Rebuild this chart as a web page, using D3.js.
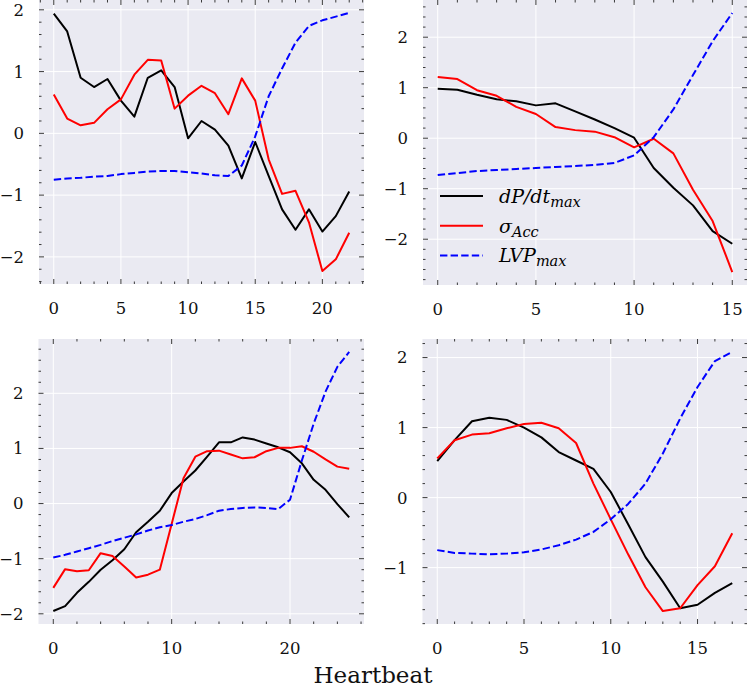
<!DOCTYPE html>
<html>
<head>
<meta charset="utf-8">
<script src="https://cdn.jsdelivr.net/npm/d3@7"></script>
<style>
  body { margin: 0; background: #ffffff; }
  svg text { font-family: "DejaVu Serif", serif; }
</style>
</head>
<body>
<div id="chart"></div>
<script>

// top left panel, heartbeats 0..22
var dpdtA = [1.94, 1.65, 0.90, 0.75, 0.88, 0.53, 0.27, 0.90, 1.02, 0.75, -0.08, 0.20, 0.06, -0.20, -0.73, -0.14, -0.69, -1.23, -1.56, -1.23, -1.59, -1.34, -0.94];
var saccA = [0.63, 0.24, 0.13, 0.17, 0.39, 0.55, 0.95, 1.19, 1.18, 0.40, 0.61, 0.77, 0.65, 0.31, 0.89, 0.53, -0.42, -0.98, -0.93, -1.44, -2.23, -2.04, -1.61];
var lvpA  = [-0.75, -0.73, -0.72, -0.70, -0.69, -0.66, -0.64, -0.62, -0.61, -0.61, -0.63, -0.65, -0.68, -0.69, -0.52, -0.05, 0.60, 1.05, 1.47, 1.74, 1.83, 1.89, 1.95];

// top right panel, heartbeats 0..15
var dpdtB = [0.98, 0.96, 0.86, 0.77, 0.73, 0.65, 0.69, 0.53, 0.37, 0.20, 0.01, -0.59, -0.98, -1.33, -1.84, -2.09];
var saccB = [1.21, 1.17, 0.95, 0.84, 0.62, 0.48, 0.22, 0.16, 0.13, 0.02, -0.18, -0.01, -0.30, -1.02, -1.64, -2.65];
var lvpB  = [-0.73, -0.69, -0.65, -0.63, -0.61, -0.59, -0.57, -0.55, -0.53, -0.49, -0.34, 0.02, 0.57, 1.25, 1.92, 2.48];

// bottom left panel, heartbeats 0..25
var dpdtC = [-1.95, -1.86, -1.62, -1.42, -1.20, -1.03, -0.83, -0.52, -0.33, -0.13, 0.19, 0.40, 0.60, 0.85, 1.11, 1.11, 1.20, 1.16, 1.09, 1.02, 0.93, 0.73, 0.43, 0.25, -0.01, -0.25];
var saccC = [-1.53, -1.19, -1.23, -1.21, -0.90, -0.95, -1.14, -1.34, -1.29, -1.20, -0.37, 0.46, 0.85, 0.95, 0.96, 0.89, 0.82, 0.84, 0.95, 1.01, 1.01, 1.04, 0.94, 0.80, 0.67, 0.63];
var lvpC  = [-0.98, -0.93, -0.87, -0.81, -0.75, -0.68, -0.62, -0.56, -0.49, -0.43, -0.39, -0.33, -0.28, -0.21, -0.13, -0.10, -0.08, -0.07, -0.08, -0.10, 0.07, 0.78, 1.45, 2.03, 2.48, 2.75];

// bottom right panel, heartbeats 0..17
var dpdtD = [0.52, 0.82, 1.09, 1.14, 1.11, 1.00, 0.86, 0.65, 0.53, 0.41, 0.08, -0.38, -0.85, -1.20, -1.58, -1.53, -1.36, -1.22];
var saccD = [0.56, 0.82, 0.90, 0.92, 0.99, 1.05, 1.07, 0.99, 0.78, 0.20, -0.31, -0.81, -1.28, -1.62, -1.58, -1.25, -0.98, -0.51];
var lvpD  = [-0.75, -0.79, -0.80, -0.81, -0.80, -0.78, -0.74, -0.68, -0.60, -0.49, -0.31, -0.09, 0.20, 0.63, 1.13, 1.58, 1.95, 2.08];

// tick labels per panel
var xTicksA = [0, 5, 10, 15, 20];
var xTicksB = [0, 5, 10, 15];
var xTicksC = [0, 10, 20];
var xTicksD = [0, 5, 10, 15];
var yTicksA = [-2, -1, 0, 1, 2];
var yTicksB = [-2, -1, 0, 1, 2];
var yTicksC = [-2, -1, 0, 1, 2];
var yTicksD = [-1, 0, 1, 2];

var seriesNames = ["dpdt", "sacc", "lvp"];
var xLabel = "Heartbeat";

var width = 747, height = 687;

var svg = d3.select("#chart")
    .append("svg")
    .attr("width", width)
    .attr("height", height);

// panel boxes (pixels)
var panels = [
  {box: {left: 39, right: 364, top: 0, bottom: 284}, series: [dpdtA, saccA, lvpA], xt: xTicksA, yt: yTicksA, xMinor: 1, legend: false},
  {box: {left: 423, right: 747, top: 0, bottom: 285}, series: [dpdtB, saccB, lvpB], xt: xTicksB, yt: yTicksB, xMinor: 1, legend: true},
  {box: {left: 38.5, right: 364, top: 339, bottom: 624}, series: [dpdtC, saccC, lvpC], xt: xTicksC, yt: yTicksC, xMinor: 2, legend: false},
  {box: {left: 422.5, right: 747, top: 339, bottom: 624}, series: [dpdtD, saccD, lvpD], xt: xTicksD, yt: yTicksD, xMinor: 1, legend: false}
];

var styles = {
  dpdt: {color: "#000000", dash: null},
  sacc: {color: "#ff0000", dash: null},
  lvp:  {color: "#0000ff", dash: "7.4,3.2"}
};

function fmt(v) {
  return String(v).replace("-", "\u2212");
}

panels.forEach(function(p) {
  var b = p.box;
  var n = p.series[0].length - 1;

  // matplotlib style 5% margins
  var x = d3.scaleLinear()
      .domain([-0.05 * n, n * 1.05])
      .range([b.left, b.right]);

  var all = d3.merge(p.series);
  var ext = d3.extent(all);
  var pad = (ext[1] - ext[0]) * 0.05;
  var y = d3.scaleLinear()
      .domain([ext[0] - pad, ext[1] + pad])
      .range([b.bottom, b.top]);

  var g = svg.append("g");

  // background
  g.append("rect")
   .attr("x", b.left)
   .attr("y", b.top)
   .attr("width", b.right - b.left)
   .attr("height", b.bottom - b.top)
   .attr("fill", "#eaeaf2");

  // grid
  g.selectAll(".gx").data(p.xt).enter().append("line")
   .attr("x1", function(d) { return x(d); })
   .attr("x2", function(d) { return x(d); })
   .attr("y1", b.top).attr("y2", b.bottom)
   .attr("stroke", "#ffffff").attr("stroke-width", 1);
  g.selectAll(".gy").data(p.yt).enter().append("line")
   .attr("y1", function(d) { return y(d); })
   .attr("y2", function(d) { return y(d); })
   .attr("x1", b.left).attr("x2", b.right)
   .attr("stroke", "#ffffff").attr("stroke-width", 1);

  // ticks on all four sides, pointing in
  var xd = x.domain(), yd = y.domain();
  var xMinorTicks = d3.range(Math.ceil(xd[0] / p.xMinor) * p.xMinor, xd[1], p.xMinor)
      .filter(function(v) { return p.xt.indexOf(v) < 0; });
  var yMinorTicks = d3.range(Math.ceil(yd[0] / 0.2) * 0.2, yd[1], 0.2)
      .map(function(v) { return Math.round(v * 10) / 10; })
      .filter(function(v) { return p.yt.indexOf(v) < 0; });

  var tickColor = "#3a3a3a";
  function xTicks(list, len) {
    [b.bottom, b.top].forEach(function(edge, i) {
      var dir = i == 0 ? -1 : 1;
      g.selectAll(null).data(list).enter().append("line")
       .attr("x1", function(d) { return x(d); })
       .attr("x2", function(d) { return x(d); })
       .attr("y1", edge).attr("y2", edge + dir * len)
       .attr("stroke", tickColor).attr("stroke-width", 1);
    });
  }
  function yTicks(list, len) {
    [b.left, b.right].forEach(function(edge, i) {
      var dir = i == 0 ? 1 : -1;
      g.selectAll(null).data(list).enter().append("line")
       .attr("y1", function(d) { return y(d); })
       .attr("y2", function(d) { return y(d); })
       .attr("x1", edge).attr("x2", edge + dir * len)
       .attr("stroke", tickColor).attr("stroke-width", 1);
    });
  }
  xTicks(p.xt, 5);
  xTicks(xMinorTicks, 2.5);
  yTicks(p.yt, 5);
  yTicks(yMinorTicks, 2.5);

  // tick labels
  g.selectAll(".xl").data(p.xt).enter().append("text")
   .attr("x", function(d) { return x(d); })
   .attr("y", b.bottom + 30)
   .attr("text-anchor", "middle")
   .attr("font-size", "16.5px")
   .attr("fill", "#111")
   .text(fmt);
  g.selectAll(".yl").data(p.yt).enter().append("text")
   .attr("x", b.left - 15)
   .attr("y", function(d) { return y(d); })
   .attr("dy", "0.36em")
   .attr("text-anchor", "end")
   .attr("font-size", "16.5px")
   .attr("fill", "#111")
   .text(fmt);

  // lines
  var line = d3.line()
      .x(function(d, i) { return x(i); })
      .y(function(d) { return y(d); });

  p.series.forEach(function(s, k) {
    var st = styles[seriesNames[k]];
    g.append("path")
     .datum(s)
     .attr("d", line)
     .attr("fill", "none")
     .attr("stroke", st.color)
     .attr("stroke-width", 2)
     .attr("stroke-linejoin", "round")
     .attr("stroke-dasharray", st.dash);
  });

  // legend in the top right panel
  if (p.legend) {
    var labels = [["dP/dt", "max"], ["\u03c3", "Acc"], ["LVP", "max"]];
    var lg = g.append("g").attr("transform", "translate(440,196)");
    labels.forEach(function(l, i) {
      var st = styles[seriesNames[i]];
      var yy = i * 29.7;
      lg.append("line")
        .attr("x1", 0).attr("x2", 43)
        .attr("y1", yy).attr("y2", yy)
        .attr("stroke", st.color)
        .attr("stroke-width", 2)
        .attr("stroke-dasharray", st.dash);
      var t = lg.append("text")
        .attr("x", 59)
        .attr("y", yy + 7)
        .attr("font-style", "italic")
        .attr("font-size", "19px")
        .attr("fill", "#000");
      t.append("tspan").text(l[0]);
      t.append("tspan")
       .attr("dy", 4)
       .attr("font-size", "14.5px")
       .text(l[1]);
    });
  }
});

// shared x label
svg.append("text")
   .attr("x", 373)
   .attr("y", 683)
   .attr("text-anchor", "middle")
   .attr("font-size", "23px")
   .attr("fill", "#111")
   .text(xLabel);

</script>
</body>
</html>
